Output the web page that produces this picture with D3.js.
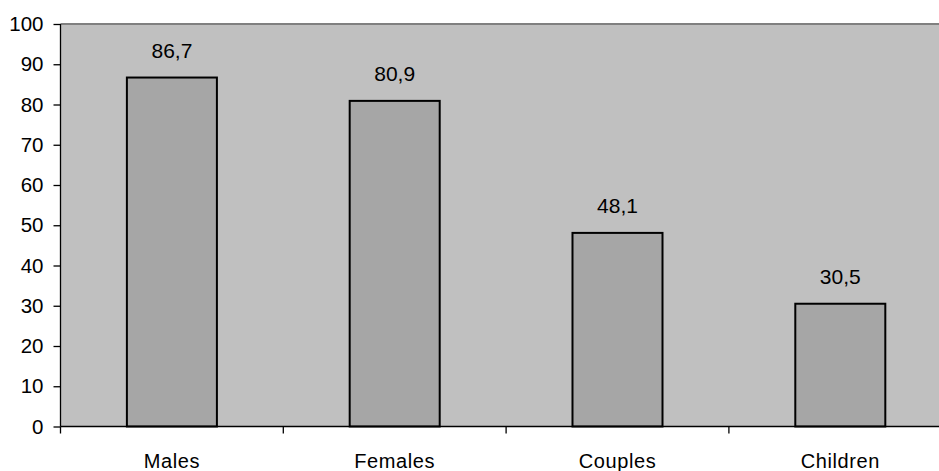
<!DOCTYPE html>
<html>
<head>
<meta charset="utf-8">
<script src="https://cdn.jsdelivr.net/npm/d3@7/dist/d3.min.js"></script>
<style>
  html, body { margin: 0; padding: 0; background: #fff; }
  svg { display: block; }
  text { font-family: "Liberation Sans", Arial, sans-serif; fill: #000; }
</style>
</head>
<body>
<svg id="chart" width="939" height="471"></svg>
<script>
const categories = ["Males", "Females", "Couples", "Children"];
const values = [86.7, 80.9, 48.1, 30.5];
const yTicks = [0, 10, 20, 30, 40, 50, 60, 70, 80, 90, 100];

const plot = { left: 60.5, top: 24, bottom: 426.5, catWidth: 222.8 };
const plotRight = plot.left + plot.catWidth * categories.length;

const svg = d3.select("#chart");

const x = d3.scaleBand()
  .domain(categories)
  .range([plot.left, plotRight])
  .paddingInner(0.596)
  .paddingOuter(0.298);

const y = d3.scaleLinear().domain([0, 100]).range([plot.bottom, plot.top]);

// plot background
svg.append("rect")
  .attr("x", plot.left).attr("y", plot.top)
  .attr("width", plotRight - plot.left).attr("height", plot.bottom - plot.top)
  .attr("fill", "#c0c0c0");

// top border of plot area
svg.append("line")
  .attr("x1", plot.left).attr("x2", plotRight)
  .attr("y1", plot.top).attr("y2", plot.top)
  .attr("stroke", "#808080").attr("stroke-width", 2);

// bars
svg.append("g").selectAll("rect")
  .data(values)
  .join("rect")
  .attr("x", (d, i) => x(categories[i]))
  .attr("y", d => y(d))
  .attr("width", x.bandwidth())
  .attr("height", d => y(0) - y(d))
  .attr("fill", "#a6a6a6")
  .attr("stroke", "#000")
  .attr("stroke-width", 2);

// value labels
svg.append("g").selectAll("text")
  .data(values)
  .join("text")
  .attr("x", (d, i) => x(categories[i]) + x.bandwidth() / 2)
  .attr("y", d => y(d) - 20)
  .attr("text-anchor", "middle")
  .attr("font-size", 21)
  .text(d => d3.format(".1f")(d).replace(".", ","));

// y axis
const yAxis = svg.append("g")
  .attr("transform", `translate(${plot.left},0)`)
  .call(d3.axisLeft(y).tickValues(yTicks).tickSize(7).tickPadding(10).tickFormat(d3.format("d")));
yAxis.selectAll("path, line").attr("stroke", "#000").attr("stroke-width", 1.3);
yAxis.select(".domain").attr("d", `M0,${plot.top}V${plot.bottom}`);
yAxis.selectAll("text")
  .attr("font-size", 20.5)
  .style("font-family", '"Liberation Sans", Arial, sans-serif')
  .attr("fill", "#000");

// x axis with boundary ticks between categories
const xAxisG = svg.append("g");
xAxisG.append("line")
  .attr("x1", plot.left).attr("x2", plotRight)
  .attr("y1", plot.bottom).attr("y2", plot.bottom)
  .attr("stroke", "#000").attr("stroke-width", 1.3);
xAxisG.selectAll("line.tick")
  .data(d3.range(categories.length + 1))
  .join("line")
  .attr("class", "tick")
  .attr("x1", i => plot.left + i * x.step())
  .attr("x2", i => plot.left + i * x.step())
  .attr("y1", plot.bottom).attr("y2", plot.bottom + 7)
  .attr("stroke", "#000").attr("stroke-width", 1.3);
xAxisG.selectAll("text")
  .data(categories)
  .join("text")
  .attr("x", d => x(d) + x.bandwidth() / 2)
  .attr("y", 468)
  .attr("text-anchor", "middle")
  .attr("font-size", 20)
  .attr("letter-spacing", 0.6)
  .text(d => d);
</script>
</body>
</html>
